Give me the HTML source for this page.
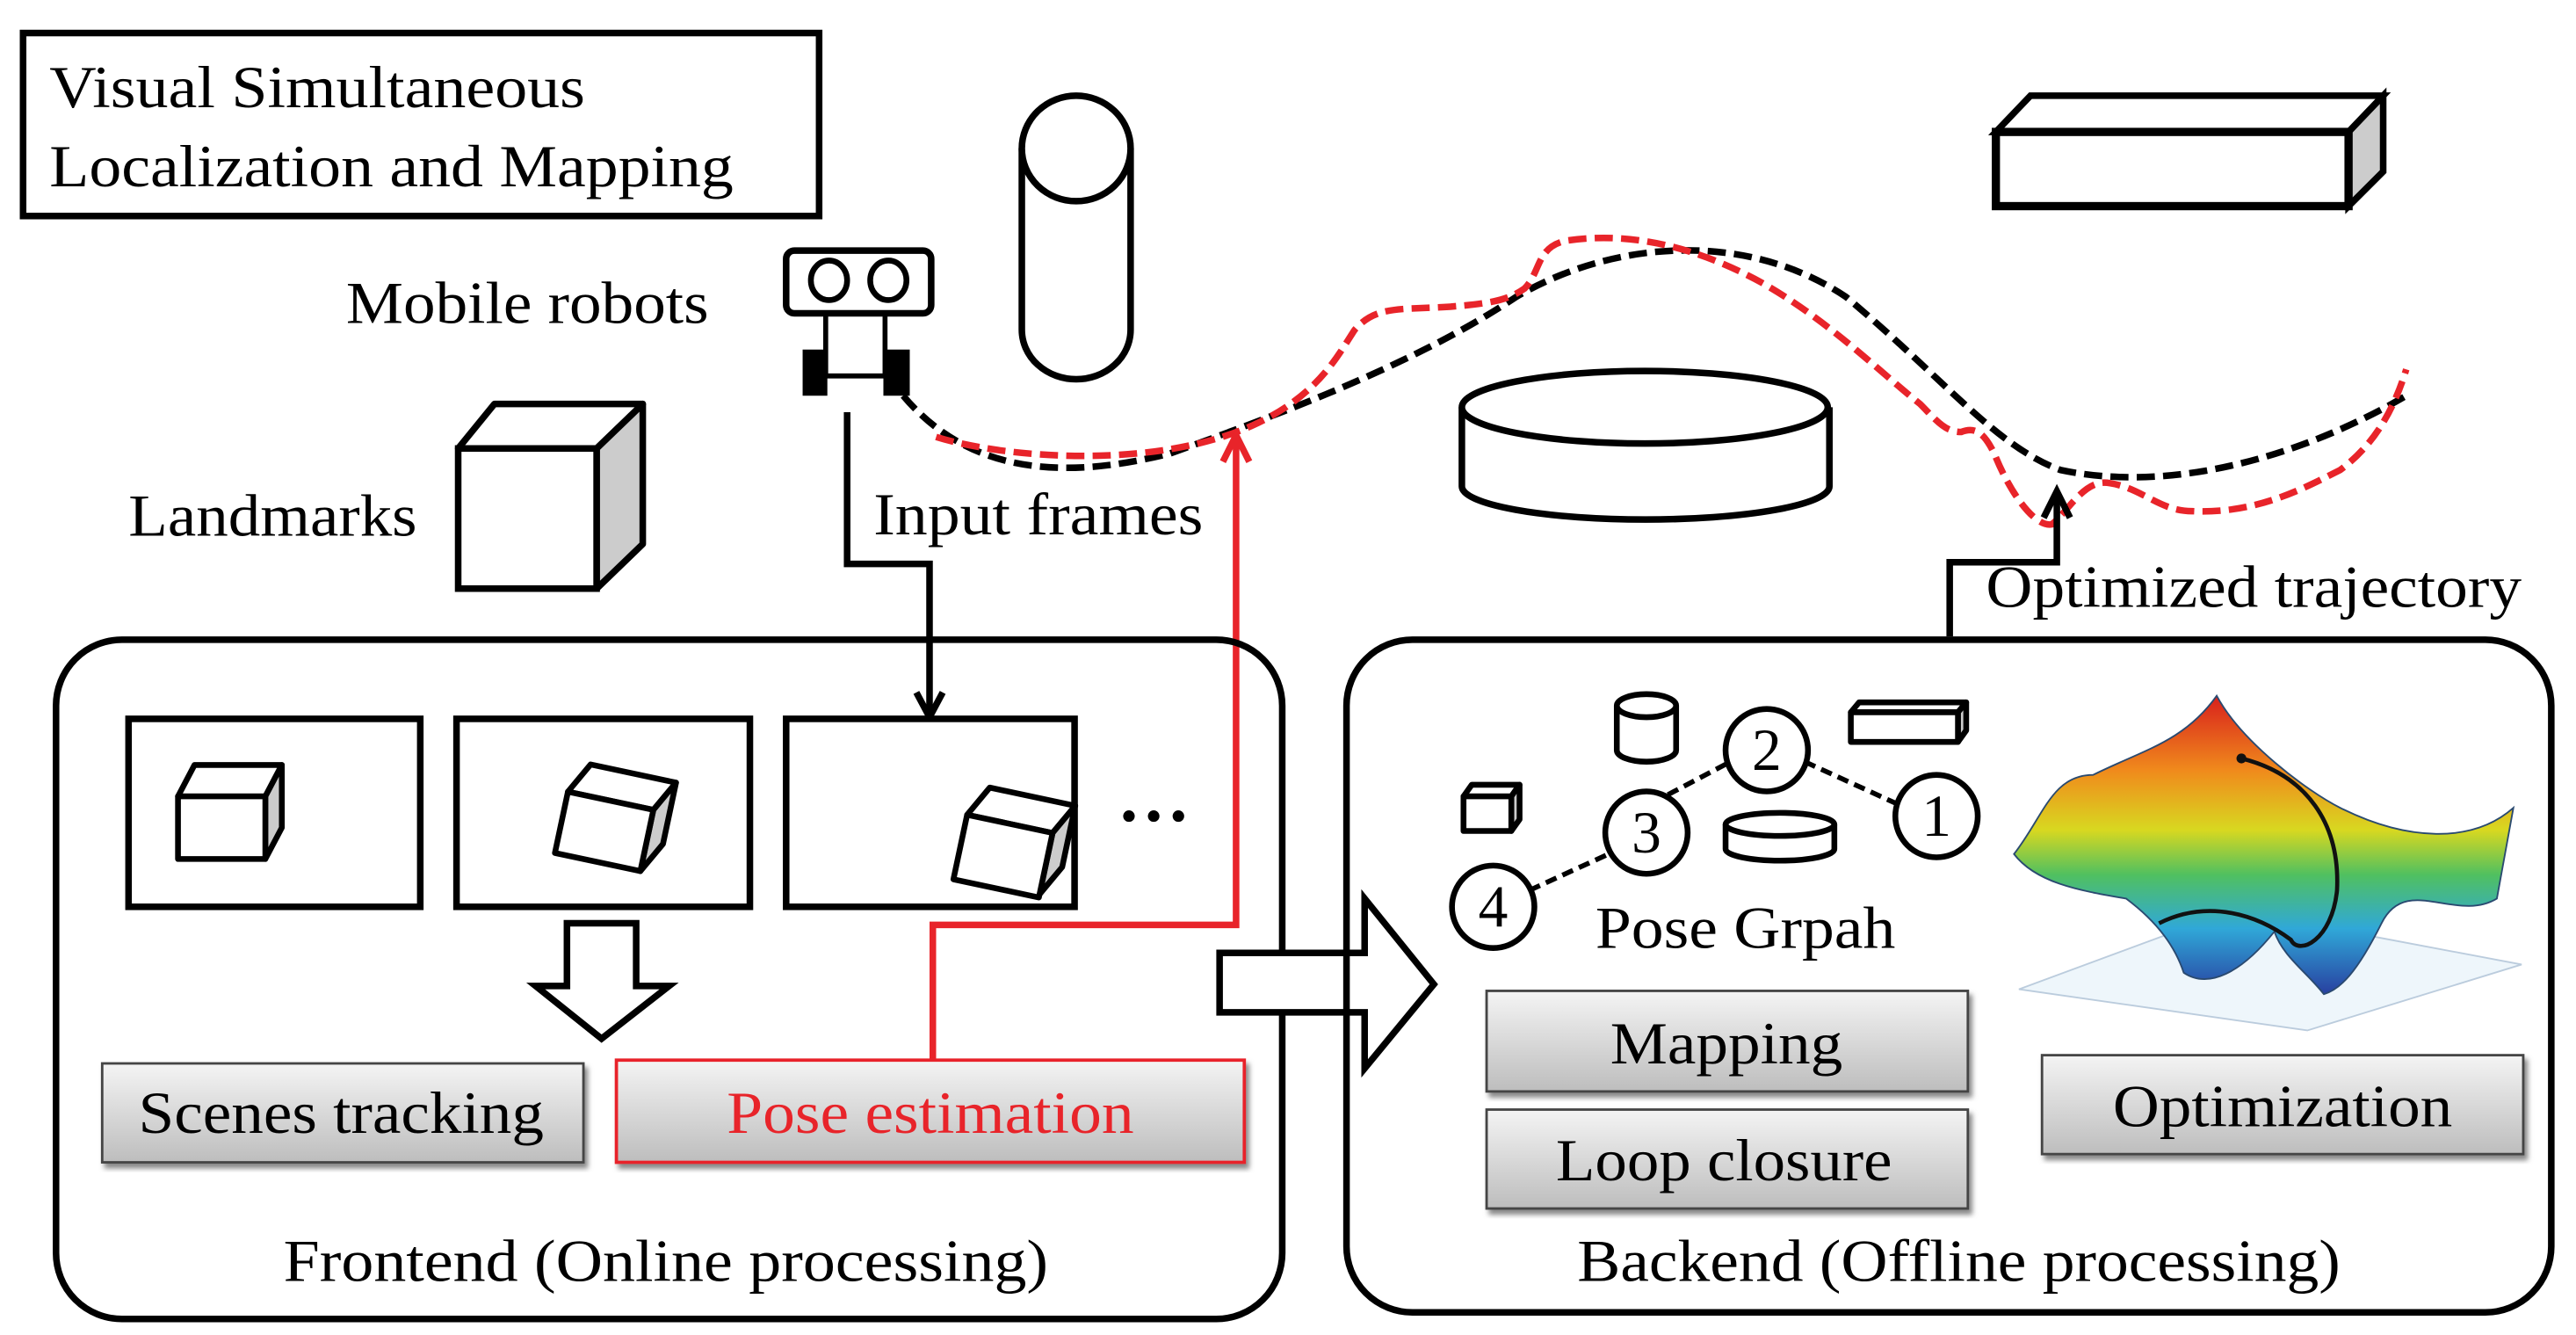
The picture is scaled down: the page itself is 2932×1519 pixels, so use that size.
<!DOCTYPE html>
<html><head><meta charset="utf-8"><style>
html,body{margin:0;padding:0;background:#fff;}
svg{display:block;}
text{font-family:"Liberation Serif",serif;font-size:36px;fill:#000;}
</style></head><body>
<svg width="2932" height="1519" viewBox="0 0 1563 809.7" xmlns="http://www.w3.org/2000/svg">
<defs>
<linearGradient id="btn" x1="0" y1="0" x2="0" y2="1">
<stop offset="0" stop-color="#f4f4f4"/><stop offset="1" stop-color="#bdbdbd"/></linearGradient>
<linearGradient id="surf" x1="0" y1="0" x2="0" y2="1">
<stop offset="0" stop-color="#d8201c"/><stop offset="0.25" stop-color="#f08a1c"/><stop offset="0.45" stop-color="#d8d820"/><stop offset="0.6" stop-color="#50c060"/><stop offset="0.78" stop-color="#30a8d8"/><stop offset="1" stop-color="#2840a0"/></linearGradient>
<filter id="sh"><feDropShadow dx="2" dy="3" stdDeviation="1.5" flood-color="#888"/></filter>
</defs>

<rect x="14" y="20" width="483" height="111" fill="none" stroke="#000" stroke-width="4"/>
<text x="30" y="65" textLength="325" lengthAdjust="spacingAndGlyphs">Visual Simultaneous</text>
<text x="30" y="113" textLength="415" lengthAdjust="spacingAndGlyphs">Localization and Mapping</text>

<text x="210" y="196" textLength="220" lengthAdjust="spacingAndGlyphs">Mobile robots</text>
<text x="78" y="325" textLength="175" lengthAdjust="spacingAndGlyphs">Landmarks</text>
<text x="530" y="324" textLength="200" lengthAdjust="spacingAndGlyphs">Input frames</text>
<text x="1205" y="368" textLength="325" lengthAdjust="spacingAndGlyphs">Optimized trajectory</text>

<rect x="477" y="152" width="88" height="38" rx="5" fill="#fff" stroke="#000" stroke-width="4"/>
<ellipse cx="503" cy="170" rx="11" ry="12" fill="none" stroke="#000" stroke-width="3.5"/>
<ellipse cx="539" cy="170" rx="11" ry="12" fill="none" stroke="#000" stroke-width="3.5"/>
<line x1="501" y1="190" x2="501" y2="228" stroke="#000" stroke-width="3"/>
<line x1="537" y1="190" x2="537" y2="228" stroke="#000" stroke-width="3"/>
<line x1="500" y1="228" x2="540" y2="228" stroke="#000" stroke-width="3"/>
<rect x="487" y="212" width="15" height="28" fill="#000"/>
<rect x="536" y="212" width="16" height="28" fill="#000"/>

<path d="M620,90 L620,200 A33,30 0 0 0 686,200 L686,90" fill="#fff" stroke="#000" stroke-width="4"/>
<ellipse cx="653" cy="90" rx="33" ry="32" fill="#fff" stroke="#000" stroke-width="4"/>

<polygon points="278,272 300,245 390,245 362,272" fill="#fff" stroke="#000" stroke-width="4" stroke-linejoin="round"/>
<polygon points="362,272 390,245 390,330 362,357" fill="#ccc" stroke="#000" stroke-width="4" stroke-linejoin="round"/>
<rect x="278" y="272" width="84" height="85" fill="#fff" stroke="#000" stroke-width="4"/>

<path d="M887,247 L887,295 A111,20 0 0 0 1110,295 L1110,247" fill="#fff" stroke="#000" stroke-width="4"/>
<ellipse cx="998" cy="247" rx="111" ry="22" fill="#fff" stroke="#000" stroke-width="4"/>

<polygon points="1211,80 1232,58 1446,58 1425,80" fill="#fff" stroke="#000" stroke-width="4"/>
<polygon points="1425,80 1446,58 1446,104 1425,125" fill="#ccc" stroke="#000" stroke-width="4"/>
<rect x="1211" y="80" width="214" height="45" fill="#fff" stroke="#000" stroke-width="5"/>

<path d="M548,240 C590,290 650,290 710,275 C780,250 860,220 920,180 C980,145 1060,140 1120,180 C1180,230 1210,270 1250,285 C1320,300 1400,275 1460,240" fill="none" stroke="#000" stroke-width="4" stroke-dasharray="11,5"/>
<path d="M568,265 C610,278 700,285 760,258 C800,240 812,215 822,200 C835,185 850,188 880,186 C905,184 915,182 925,175 C935,165 932,150 950,146 C990,140 1030,150 1070,172 C1110,195 1140,225 1165,245 C1175,255 1180,262 1190,262 C1200,258 1205,265 1210,275 C1220,300 1235,320 1245,318 C1255,310 1265,290 1280,293 C1300,296 1310,310 1330,310 C1370,312 1400,295 1420,285 C1440,270 1452,250 1460,224" fill="none" stroke="#e8242a" stroke-width="4" stroke-dasharray="11,5"/>

<polyline points="514,250 514,342 564,342 564,433" fill="none" stroke="#000" stroke-width="4"/>
<polyline points="556,420 564,435 572,420" fill="none" stroke="#000" stroke-width="4"/>
<polyline points="566,644 566,561 750,561 750,266" fill="none" stroke="#e8242a" stroke-width="4"/>
<polyline points="742,280 750,264 758,280" fill="none" stroke="#e8242a" stroke-width="4"/>
<polyline points="1183,386 1183,341 1248,341 1248,300" fill="none" stroke="#000" stroke-width="4"/>
<polyline points="1240,314 1248,298 1256,314" fill="none" stroke="#000" stroke-width="4"/>

<rect x="34" y="388" width="744" height="412" rx="40" fill="none" stroke="#000" stroke-width="4"/>
<rect x="78" y="436" width="177" height="114" fill="#fff" stroke="#000" stroke-width="4"/>
<rect x="277" y="436" width="178" height="114" fill="#fff" stroke="#000" stroke-width="4"/>
<rect x="477" y="436" width="175" height="114" fill="#fff" stroke="#000" stroke-width="4"/>
<g stroke="#000" stroke-width="3.5" stroke-linejoin="round">
<polygon points="108,483 118,464 171,464 161,483" fill="#fff"/>
<polygon points="161,483 171,464 171,502 161,521" fill="#ccc"/>
<rect x="108" y="483" width="53" height="38" fill="#fff"/>
<g transform="rotate(12 370 505)">
<polygon points="340,486 350,467 403,467 393,486" fill="#fff"/>
<polygon points="393,486 403,467 403,505 393,524" fill="#ccc"/>
<rect x="340" y="486" width="53" height="38" fill="#fff"/>
</g>
<g transform="rotate(12 612 520)">
<polygon points="582,500 592,481 645,481 635,500" fill="#fff"/>
<polygon points="635,500 645,481 645,519 635,538" fill="#ccc"/>
<rect x="582" y="500" width="53" height="40" fill="#fff"/>
</g>
</g>
<circle cx="685" cy="495" r="3.5" fill="#000"/><circle cx="700" cy="495" r="3.5" fill="#000"/><circle cx="715" cy="495" r="3.5" fill="#000"/>
<polygon points="344,560 386,560 386,598 406,598 365,630 325,598 344,598" fill="#fff" stroke="#000" stroke-width="4"/>
<rect x="62" y="645" width="292" height="60" fill="url(#btn)" stroke="#444" stroke-width="1.5" filter="url(#sh)"/>
<text x="84" y="687" textLength="246" lengthAdjust="spacingAndGlyphs">Scenes tracking</text>
<rect x="374" y="643" width="381" height="62" fill="url(#btn)" stroke="#e8242a" stroke-width="2" filter="url(#sh)"/>
<text x="441" y="687" textLength="247" lengthAdjust="spacingAndGlyphs" style="fill:#e8242a">Pose estimation</text>
<text x="172" y="777" textLength="464" lengthAdjust="spacingAndGlyphs">Frontend (Online processing)</text>

<polygon points="740,578 828,578 828,545 870,597 828,648 828,614 740,614" fill="#fff" stroke="#000" stroke-width="4"/>

<rect x="817" y="388" width="731" height="408" rx="40" fill="none" stroke="#000" stroke-width="4"/>
<g stroke="#000" stroke-width="3.5" stroke-linejoin="round">
<polygon points="888,483 893,476 922,476 917,483" fill="#fff"/>
<polygon points="917,483 922,476 922,497 917,504" fill="#ccc"/>
<rect x="888" y="483" width="29" height="21" fill="#fff"/>
<path d="M981,428 L981,455 A18,7 0 0 0 1017,455 L1017,428" fill="#fff"/>
<ellipse cx="999" cy="428" rx="18" ry="7" fill="#fff"/>
<polygon points="1123,432 1128,426 1193,426 1188,432" fill="#fff"/>
<polygon points="1188,432 1193,426 1193,443 1188,450" fill="#ccc"/>
<rect x="1123" y="432" width="65" height="18" fill="#fff"/>
<path d="M1047,500 L1047,515 A33,7 0 0 0 1113,515 L1113,500" fill="#fff"/>
<ellipse cx="1080" cy="500" rx="33" ry="7" fill="#fff"/>
</g>
<g stroke="#000" stroke-width="3" stroke-dasharray="7,4">
<line x1="928" y1="540" x2="976" y2="518"/>
<line x1="1012" y1="482" x2="1050" y2="462"/>
<line x1="1095" y1="462" x2="1152" y2="488"/>
</g>
<g fill="#fff" stroke="#000" stroke-width="3.5">
<circle cx="1072" cy="455" r="25"/><circle cx="1175" cy="495" r="25"/>
<circle cx="999" cy="505" r="25"/><circle cx="906" cy="550" r="25"/>
</g>
<g style="font-size:32px" text-anchor="middle">
<text x="1072" y="467">2</text><text x="1175" y="507">1</text>
<text x="999" y="517">3</text><text x="906" y="562">4</text>
</g>
<text x="968" y="575" textLength="182" lengthAdjust="spacingAndGlyphs">Pose Grpah</text>

<polygon points="1225,600 1355,552 1530,585 1400,625" fill="#eef6fb" stroke="#bcd" stroke-width="1"/>
<path d="M1345,422 C1360,450 1400,480 1420,490 C1460,510 1500,512 1525,490 L1515,545 C1490,560 1460,530 1445,560 C1430,590 1420,600 1410,603 C1400,590 1385,580 1380,565 C1360,590 1340,600 1325,590 C1320,575 1310,560 1290,545 C1260,540 1235,535 1222,518 C1240,495 1245,470 1270,470 C1300,455 1325,450 1345,422 Z" fill="url(#surf)" stroke="#2a4a70" stroke-width="1"/>
<path d="M1360,460 C1400,470 1420,500 1418,540 C1415,570 1395,580 1390,570 C1370,555 1340,545 1310,560" fill="none" stroke="#111" stroke-width="2.5"/>
<circle cx="1360" cy="460" r="3" fill="#111"/>

<rect x="902" y="601" width="292" height="61" fill="url(#btn)" stroke="#444" stroke-width="1.5" filter="url(#sh)"/>
<text x="977" y="645" textLength="141" lengthAdjust="spacingAndGlyphs">Mapping</text>
<rect x="902" y="673" width="292" height="60" fill="url(#btn)" stroke="#444" stroke-width="1.5" filter="url(#sh)"/>
<text x="944" y="716" textLength="204" lengthAdjust="spacingAndGlyphs">Loop closure</text>
<rect x="1239" y="640" width="292" height="60" fill="url(#btn)" stroke="#444" stroke-width="1.5" filter="url(#sh)"/>
<text x="1282" y="683" textLength="206" lengthAdjust="spacingAndGlyphs">Optimization</text>
<text x="957" y="777" textLength="463" lengthAdjust="spacingAndGlyphs">Backend (Offline processing)</text>
</svg>
</body></html>
